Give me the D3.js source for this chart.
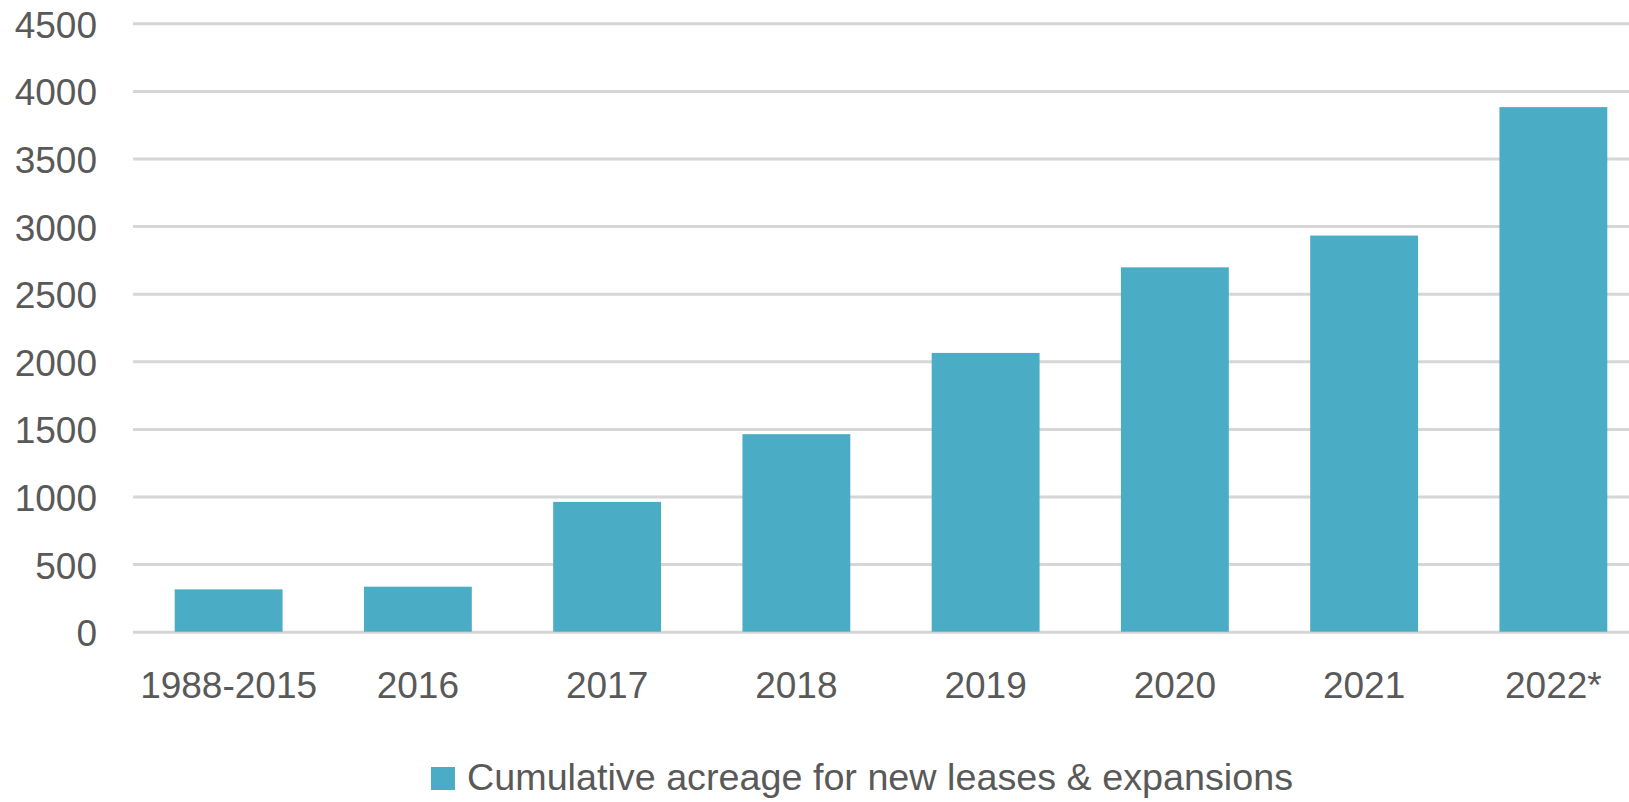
<!DOCTYPE html>
<meta charset="utf-8">
<script src="https://d3js.org/d3.v7.min.js"></script>
<style>
  body { margin: 0; background: #fff; }
  text { font-family: "Liberation Sans", Arial, sans-serif; fill: #595959; }
</style>
<div id="chart"></div>
<script>

// data
var categories = ["1988-2015", "2016", "2017", "2018", "2019", "2020", "2021", "2022*"];
var acreage = [313, 333, 960, 1461, 2062, 2695, 2930, 3880];
var yTicks = [0, 500, 1000, 1500, 2000, 2500, 3000, 3500, 4000, 4500];
var seriesName = "Cumulative acreage for new leases & expansions";

var W = 1629, H = 802;
var barColor = "#4bacc6";

var svg = d3.select("#chart")
  .append("svg")
    .attr("width", W)
    .attr("height", H);

// x band scale - last bar is cut by the right edge in the original
var x = d3.scaleBand()
  .domain(categories)
  .range([134, 1648])
  .paddingInner(0.43)
  .paddingOuter(0.215);

var y = d3.scaleLinear()
  .domain([0, 4500])
  .range([631.7, 23.3]);

// gridlines
svg.append("g")
  .attr("transform", "translate(133,0)")
  .call(d3.axisLeft(y)
      .tickValues(yTicks)
      .tickSize(-(W - 133))
      .tickFormat(""))
  .call(function(g) { g.select(".domain").remove(); })
  .selectAll("line")
    .attr("stroke", "#d6d6d6")
    .attr("stroke-width", 3);

// y labels
svg.append("g")
  .selectAll("text")
  .data(yTicks)
  .enter()
  .append("text")
    .attr("x", 97)
    .attr("y", function(d) { return y(d); })
    .attr("dy", "0.39em")
    .attr("text-anchor", "end")
    .attr("font-size", "37px")
    .text(function(d) { return d; });

// bars
svg.append("g")
  .selectAll("rect")
  .data(acreage)
  .enter()
  .append("rect")
    .attr("x", function(d, i) { return x(categories[i]); })
    .attr("y", function(d) { return y(d); })
    .attr("width", x.bandwidth())
    .attr("height", function(d) { return y(0) - y(d); })
    .attr("fill", barColor);

// x labels
svg.append("g")
  .selectAll("text")
  .data(categories)
  .enter()
  .append("text")
    .attr("x", function(d) { return x(d) + x.bandwidth() / 2; })
    .attr("y", 698.3)
    .attr("text-anchor", "middle")
    .attr("font-size", "37px")
    .text(function(d) { return d; });

// legend
svg.append("rect")
  .attr("x", 431)
  .attr("y", 767)
  .attr("width", 24)
  .attr("height", 23)
  .attr("fill", barColor);

svg.append("text")
  .attr("x", 467)
  .attr("y", 790)
  .attr("font-size", "36px")
  .attr("textLength", 826)
  .attr("lengthAdjust", "spacingAndGlyphs")
  .text(seriesName);

</script>
